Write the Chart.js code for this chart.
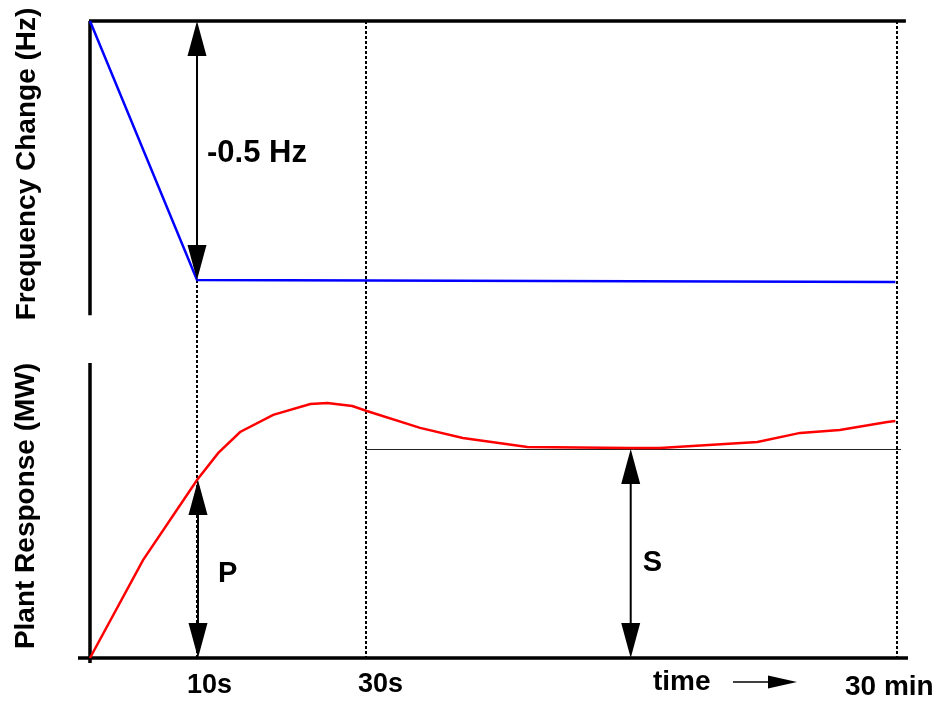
<!DOCTYPE html>
<html>
<head>
<meta charset="utf-8">
<script src="https://cdn.jsdelivr.net/npm/chart.js@4"></script>
<style>
  html, body { margin: 0; padding: 0; background: #fff; }
  #wrap { position: relative; width: 940px; height: 704px; }
</style>
</head>
<body>
<div id="wrap"><canvas id="response"></canvas></div>
<script>
// ===================== Data =====================
// time is on a schematic axis: 0 = disturbance, 100 = the 30 min mark
const tickTimes = [13.26, 34.2, 100];
const tickLabels = ['10s', '30s', '30 min'];

// frequency change (Hz)
const freqTime = [0, 13.26, 99.8];
const freqChange = [0, -0.5, -0.504];

// plant response (MW, relative units)
const respTime = [0, 6.57, 13.26, 15.9, 18.6, 22.7, 27.3, 29.4, 32.5, 34.3,
                  40.9, 46.2, 54.2, 66.9, 70.6, 82.7, 88.0, 92.9, 98.8, 99.8];
const respMW = [0, 33.2, 60.3, 69.5, 76.6, 82.4, 86.1, 86.4, 85.4, 83.7,
                78.0, 74.6, 71.5, 71.2, 71.2, 73.2, 76.3, 77.3, 80.0, 80.3];

// annotated quantities
const freqStep = -0.5;      // Hz
const primaryMW = 60.3;     // P, at 10s
const secondaryMW = 70.8;   // S, settled level
const secondaryTime = 67.0; // where S is marked

const FONT = '"Liberation Sans", Arial, Helvetica, sans-serif';

function arrowHead(ctx, x, y, dir, len, half) {
  // dir = -1 points up, +1 points down; (x, y) is the tip
  ctx.beginPath();
  ctx.moveTo(x, y);
  ctx.lineTo(x - half, y - dir * len);
  ctx.lineTo(x + half, y - dir * len);
  ctx.closePath();
  ctx.fill();
}

function doubleArrow(ctx, x, yTop, yBot) {
  const len = 35, half = 9.5;
  ctx.strokeStyle = '#000';
  ctx.fillStyle = '#000';
  ctx.lineWidth = 2;
  ctx.setLineDash([]);
  ctx.beginPath();
  ctx.moveTo(x, yTop + len - 2);
  ctx.lineTo(x, yBot - len + 2);
  ctx.stroke();
  arrowHead(ctx, x, yTop, -1, len, half);
  arrowHead(ctx, x, yBot, 1, len, half);
}

// ===================== Guides, frame and labels =====================
const schematic = {
  id: 'schematic',
  beforeDatasetsDraw(chart) {
    const ctx = chart.ctx;
    const x = chart.scales.x, yF = chart.scales.yF, yP = chart.scales.yP;
    const top = yF.getPixelForValue(0);
    const base = yP.getPixelForValue(0);
    const snap = v => Math.round(x.getPixelForValue(v));
    ctx.save();

    // dotted time markers
    ctx.strokeStyle = '#000';
    ctx.lineWidth = 2;
    ctx.setLineDash([3, 2]);
    ctx.beginPath();
    ctx.moveTo(snap(tickTimes[0]), yF.getPixelForValue(freqStep));
    ctx.lineTo(snap(tickTimes[0]), base);
    for (const t of tickTimes.slice(1)) {
      ctx.moveTo(snap(t), top);
      ctx.lineTo(snap(t), base);
    }
    ctx.stroke();

    // settled level line
    ctx.setLineDash([]);
    ctx.lineWidth = 1;
    ctx.strokeStyle = '#222';
    ctx.beginPath();
    const sy = Math.round(yP.getPixelForValue(secondaryMW)) + 0.5;
    ctx.moveTo(x.getPixelForValue(tickTimes[1]), sy);
    ctx.lineTo(x.getPixelForValue(100.5), sy);
    ctx.stroke();

    // frames
    ctx.strokeStyle = '#000';
    ctx.lineWidth = 3.5;
    const left = x.getPixelForValue(0);
    ctx.beginPath();
    ctx.moveTo(left - 1, top);
    ctx.lineTo(x.getPixelForValue(101.1), top);
    ctx.moveTo(left, top);
    ctx.lineTo(left, yF.getPixelForValue(-0.568));
    ctx.moveTo(left, yP.getPixelForValue(100));
    ctx.lineTo(left, base + 5);
    ctx.moveTo(left - 12, base);
    ctx.lineTo(x.getPixelForValue(101.36), base);
    ctx.stroke();
    ctx.restore();
  },
  afterDatasetsDraw(chart) {
    const ctx = chart.ctx;
    const x = chart.scales.x, yF = chart.scales.yF, yP = chart.scales.yP;
    const base = yP.getPixelForValue(0);
    const t10 = x.getPixelForValue(tickTimes[0]);
    ctx.save();

    doubleArrow(ctx, t10, yF.getPixelForValue(0), yF.getPixelForValue(freqStep));
    doubleArrow(ctx, t10 + 1, yP.getPixelForValue(primaryMW), base);
    doubleArrow(ctx, x.getPixelForValue(secondaryTime), yP.getPixelForValue(secondaryMW), base);

    ctx.fillStyle = '#000';
    ctx.textBaseline = 'alphabetic';
    ctx.textAlign = 'left';
    ctx.font = 'bold 31px ' + FONT;
    ctx.fillText('-0.5 Hz', t10 + 10, yF.getPixelForValue(-0.273));
    ctx.font = 'bold 29px ' + FONT;
    ctx.fillText('P', t10 + 21, base - 76);
    ctx.fillText('S', x.getPixelForValue(secondaryTime) + 12, base - 87);

    // time labels
    ctx.font = 'bold 27px ' + FONT;
    ctx.fillText(tickLabels[0], t10 - 10, base + 35);
    ctx.fillText(tickLabels[1], x.getPixelForValue(tickTimes[1]) - 8, base + 34);
    ctx.font = 'bold 28px ' + FONT;
    ctx.fillText(tickLabels[2], x.getPixelForValue(tickTimes[2]) - 52, base + 37);
    ctx.fillText('time', 653, base + 32);

    // time arrow
    ctx.lineWidth = 1.5;
    ctx.beginPath();
    ctx.moveTo(733, base + 24);
    ctx.lineTo(772, base + 24);
    ctx.stroke();
    ctx.beginPath();
    ctx.moveTo(797, base + 24);
    ctx.lineTo(768, base + 17.5);
    ctx.lineTo(768, base + 30.5);
    ctx.closePath();
    ctx.fill();

    // axis titles
    ctx.font = 'bold 28px ' + FONT;
    ctx.textAlign = 'center';
    ctx.save();
    ctx.translate(35, 164);
    ctx.rotate(-Math.PI / 2);
    ctx.fillText('Frequency Change (Hz)', 0, 0);
    ctx.restore();
    ctx.save();
    ctx.translate(34, 506);
    ctx.rotate(-Math.PI / 2);
    ctx.fillText('Plant Response (MW)', 0, 0);
    ctx.restore();

    ctx.restore();
  }
};

// ===================== Chart =====================
const ctx = document.getElementById('response').getContext('2d');
new Chart(ctx, {
  type: 'line',
  data: {
    datasets: [
      {
        label: 'Frequency Change (Hz)',
        data: freqTime.map((t, i) => ({ x: t, y: freqChange[i] })),
        yAxisID: 'yF',
        borderColor: '#0000ff',
        borderWidth: 2.5,
        pointRadius: 0,
        tension: 0,
        clip: false
      },
      {
        label: 'Plant Response (MW)',
        data: respTime.map((t, i) => ({ x: t, y: respMW[i] })),
        yAxisID: 'yP',
        borderColor: '#ff0000',
        borderWidth: 2.5,
        pointRadius: 0,
        tension: 0,
        clip: false
      }
    ]
  },
  options: {
    responsive: true,
    maintainAspectRatio: false,
    animation: false,
    layout: { padding: { left: 90, right: 32, top: 21, bottom: 46 } },
    scales: {
      x: { type: 'linear', min: 0, max: 101.36, display: false },
      yF: { type: 'linear', min: -1.2297, max: 0, display: false },
      yP: { type: 'linear', min: 0, max: 215.9, display: false }
    },
    plugins: {
      legend: { display: false },
      tooltip: { enabled: false }
    }
  },
  plugins: [schematic]
});
</script>
</body>
</html>
